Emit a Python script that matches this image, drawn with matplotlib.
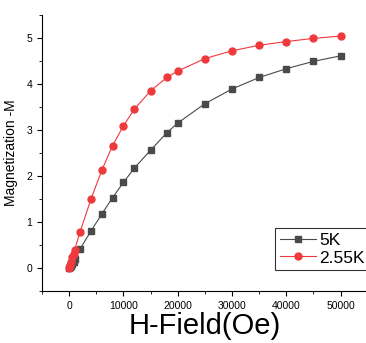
import matplotlib
matplotlib.use("Agg")
import matplotlib.pyplot as plt
from matplotlib.ticker import MultipleLocator

plt.rcParams['font.family'] = ['Liberation Sans', 'DejaVu Sans']

field = [0, 200, 400, 600, 800, 1000, 2000, 4000, 6000, 8000, 10000, 12000,
         15000, 18000, 20000, 25000, 30000, 35000, 40000, 45000, 50000]
m_5k = [0, 0.02, 0.05, 0.08, 0.12, 0.2, 0.41, 0.8, 1.17, 1.53, 1.86, 2.17,
        2.56, 2.94, 3.15, 3.57, 3.89, 4.14, 4.33, 4.49, 4.61]
m_255k = [0, 0.06, 0.14, 0.24, 0.3, 0.39, 0.78, 1.49, 2.12, 2.66, 3.09, 3.45,
          3.85, 4.14, 4.28, 4.55, 4.72, 4.84, 4.92, 4.99, 5.04]

fig = plt.figure(figsize=(3.66, 3.43), dpi=100)
ax = fig.add_axes([0.1148, 0.1516, 0.89, 0.805])

ax.plot(field, m_5k, color='#4a4a4a', marker='s', markersize=4.5, linewidth=0.8, label='5K')
ax.plot(field, m_255k, color='#f0393c', marker='o', markersize=5, linewidth=0.8, label='2.55K')

ax.set_xlim(-5000, 55000)
ax.set_ylim(-0.5, 5.5)
ax.xaxis.set_major_locator(MultipleLocator(10000))
ax.xaxis.set_minor_locator(MultipleLocator(5000))
ax.yaxis.set_major_locator(MultipleLocator(1))
ax.yaxis.set_minor_locator(MultipleLocator(0.5))
ax.tick_params(which='both', direction='out', labelsize=7.5)
ax.tick_params(which='major', length=3.5)
ax.tick_params(which='minor', length=2)

ax.spines['top'].set_visible(False)
ax.spines['right'].set_visible(False)

ax.set_xlabel('H-Field(Oe)', fontsize=21, labelpad=1)
ax.set_ylabel('Magnetization -M', fontsize=10, labelpad=6)

leg = ax.legend(loc='upper left', bbox_to_anchor=(0.716, 0.227), fontsize=12.5,
                frameon=True, fancybox=False, edgecolor='black',
                handlelength=2.1, handletextpad=0.2, borderpad=0.25,
                labelspacing=0.15, borderaxespad=0)
leg.get_frame().set_linewidth(0.8)

fig.savefig('out.png', dpi=100)
